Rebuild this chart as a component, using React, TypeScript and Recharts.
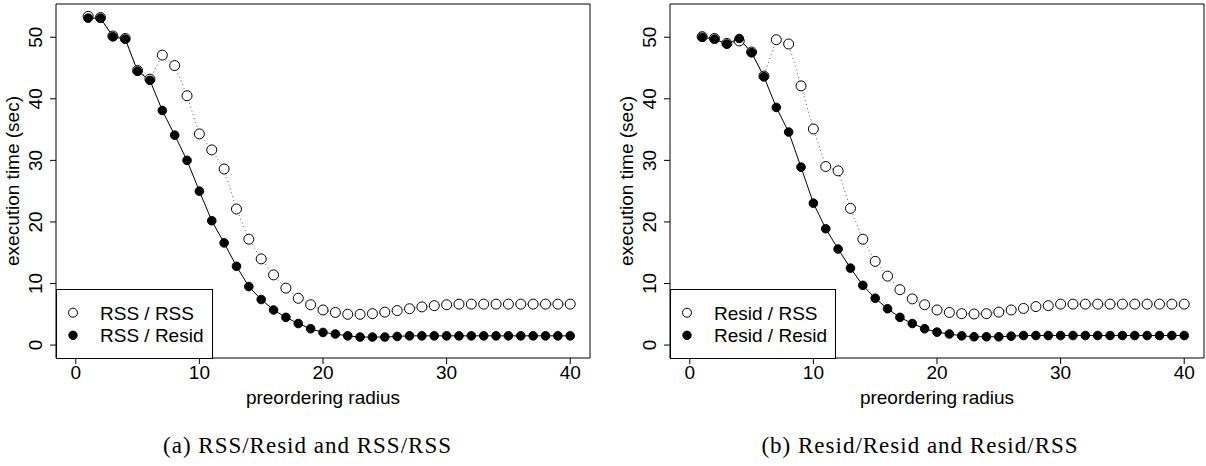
import { LineChart, Line, XAxis, YAxis, ReferenceArea, Legend } from "recharts"

// preordering radius
const radius = [
  1, 2, 3, 4, 5, 6, 7, 8, 9, 10, 11, 12, 13, 14, 15, 16, 17, 18, 19, 20,
  21, 22, 23, 24, 25, 26, 27, 28, 29, 30, 31, 32, 33, 34, 35, 36, 37, 38, 39, 40,
]

// (a) execution time (sec)
const rssResid = [
  53.1, 53.1, 50.1, 49.7, 44.5, 43.0, 38.1, 34.1, 30.0, 25.0,
  20.2, 16.6, 12.8, 9.5, 7.4, 5.7, 4.5, 3.5, 2.65, 2.05,
  1.8, 1.5, 1.3, 1.3, 1.3, 1.4, 1.5, 1.5, 1.5, 1.5,
  1.5, 1.5, 1.5, 1.5, 1.5, 1.5, 1.5, 1.5, 1.5, 1.5,
]
const rssRss = [
  53.4, 53.2, 50.2, 49.8, 44.6, 43.2, 47.1, 45.4, 40.5, 34.3,
  31.7, 28.6, 22.1, 17.2, 14.0, 11.4, 9.25, 7.6, 6.55, 5.7,
  5.3, 5.0, 5.0, 5.1, 5.35, 5.6, 5.9, 6.2, 6.4, 6.55,
  6.65, 6.65, 6.65, 6.65, 6.65, 6.65, 6.65, 6.65, 6.65, 6.65,
]

// (b) execution time (sec)
const residResid = [
  50.0, 49.7, 48.9, 49.8, 47.5, 43.6, 38.6, 34.6, 28.9, 23.05,
  18.9, 15.6, 12.5, 9.7, 7.6, 5.9, 4.5, 3.5, 2.65, 2.1,
  1.8, 1.5, 1.35, 1.35, 1.35, 1.45, 1.55, 1.55, 1.55, 1.55,
  1.55, 1.55, 1.55, 1.55, 1.55, 1.55, 1.55, 1.55, 1.55, 1.55,
]
const residRss = [
  50.1, 49.8, 49.0, 49.4, 47.6, 43.7, 49.6, 48.9, 42.1, 35.1,
  29.0, 28.3, 22.2, 17.2, 13.6, 11.2, 9.0, 7.5, 6.55, 5.7,
  5.3, 5.1, 5.05, 5.1, 5.35, 5.7, 5.95, 6.25, 6.4, 6.65,
  6.65, 6.65, 6.65, 6.65, 6.65, 6.65, 6.65, 6.65, 6.65, 6.65,
]

const xTicks = [0, 10, 20, 30, 40]
const yTicks = [0, 10, 20, 30, 40, 50]

const SANS = '"Liberation Sans", Arial, Helvetica, sans-serif'
const SERIF = '"Liberation Serif", "Times New Roman", serif'
const X_DOMAIN: [number, number] = [-1.6, 41.6]
const Y_DOMAIN: [number, number] = [-2.1, 55.4]

const YTick = (props: any) => {
  const { x, y, payload } = props
  const bx = x - 5.5
  return (
    <text x={bx} y={y} transform={`rotate(-90 ${bx} ${y})`} textAnchor="middle" fontSize={19} fill="#000" fontFamily={SANS}>
      {payload.value}
    </text>
  )
}

const XLabel = (p: any) => {
  const vb = p.viewBox ?? { x: 56, y: 358, width: 534, height: 52 }
  return (
    <text x={vb.x + vb.width / 2} y={vb.y + 45.5} textAnchor="middle" fontSize={19} fill="#000" fontFamily={SANS}>
      preordering radius
    </text>
  )
}

const YLabel = (p: any) => {
  const vb = p.viewBox ?? { x: 0, y: 4, width: 56, height: 354 }
  const cx = vb.x + 18.5
  const cy = vb.y + vb.height / 2
  return (
    <text x={cx} y={cy} transform={`rotate(-90 ${cx} ${cy})`} textAnchor="middle" fontSize={19} fill="#000" fontFamily={SANS}>
      execution time (sec)
    </text>
  )
}

const OpenDot = (p: any) => (
  <circle key={`o-${p.index}`} cx={p.cx} cy={p.cy} r={5} fill="#fff" stroke="#000" strokeWidth={1} />
)
const FilledDot = (p: any) => (
  <circle key={`f-${p.index}`} cx={p.cx} cy={p.cy} r={4.3} fill="#000" stroke="#000" strokeWidth={1} />
)

function LegendBox({ width, openName, filledName }: { width: number; openName: string; filledName: string }) {
  return (
    <svg width={width} height={70} style={{ display: "block" }}>
      <rect x={0.5} y={0.5} width={width - 1} height={69} fill="#fff" stroke="#000" />
      <circle cx={17} cy={23.7} r={4.5} fill="#fff" stroke="#000" />
      <text x={44} y={30.5} fontSize={19} fill="#000" fontFamily={SANS}>{openName}</text>
      <circle cx={17} cy={46.3} r={4.2} fill="#000" stroke="#000" />
      <text x={44} y={53} fontSize={19} fill="#000" fontFamily={SANS}>{filledName}</text>
    </svg>
  )
}

interface PanelProps {
  left: number
  solid: number[]
  dotted: number[]
  solidName: string
  dottedName: string
  legendWidth: number
}

function Panel({ left, solid, dotted, solidName, dottedName, legendWidth }: PanelProps) {
  const rows = radius.map((r, i) => ({ r, solid: solid[i], dotted: dotted[i] }))
  return (
    <div style={{ position: "absolute", left, top: 0, fontFamily: SANS }}>
      <LineChart width={592} height={410} data={rows} margin={{ top: 4, right: 2, bottom: 0, left: 0 }}>
        <ReferenceArea x1={X_DOMAIN[0]} x2={X_DOMAIN[1]} y1={Y_DOMAIN[0]} y2={Y_DOMAIN[1]} fill="none" stroke="#000" strokeWidth={1} />
        <XAxis
          type="number"
          dataKey="r"
          domain={X_DOMAIN}
          ticks={xTicks}
          interval={0}
          allowDataOverflow
          height={52}
          tickSize={6}
          axisLine={false}
          tickLine={{ stroke: "#000" }}
          tick={{ fontSize: 19, fill: "#000" }}
          label={XLabel}
        />
        <YAxis
          type="number"
          domain={Y_DOMAIN}
          ticks={yTicks}
          interval={0}
          allowDataOverflow
          width={56}
          tickSize={6}
          axisLine={false}
          tickLine={{ stroke: "#000" }}
          tick={YTick}
          label={YLabel}
        />
        <Line
          type="linear"
          dataKey="dotted"
          name={dottedName}
          stroke="#555"
          strokeWidth={1}
          strokeDasharray="1 3"
          dot={OpenDot}
          activeDot={false}
          isAnimationActive={false}
        />
        <Line
          type="linear"
          dataKey="solid"
          name={solidName}
          stroke="#000"
          strokeWidth={1}
          dot={FilledDot}
          activeDot={false}
          isAnimationActive={false}
        />
        <Legend
          layout="horizontal"
          verticalAlign="middle"
          align="center"
          wrapperStyle={{ left: 56, top: 289, width: legendWidth, height: 70 }}
          content={() => <LegendBox width={legendWidth} openName={dottedName} filledName={solidName} />}
        />
      </LineChart>
    </div>
  )
}

const captionStyle = {
  position: "absolute" as const,
  top: 434,
  transform: "translateX(-50%)",
  whiteSpace: "nowrap" as const,
  fontFamily: SERIF,
  fontSize: 23,
  letterSpacing: 1,
  lineHeight: "23px",
  color: "#000",
}

export default function App() {
  return (
    <div style={{ position: "absolute", left: 0, top: 0, width: 1206, height: 466, background: "#fff", overflow: "hidden" }}>
      <Panel left={0} solid={rssResid} dotted={rssRss} solidName="RSS / Resid" dottedName="RSS / RSS" legendWidth={157} />
      <Panel left={614} solid={residResid} dotted={residRss} solidName="Resid / Resid" dottedName="Resid / RSS" legendWidth={166} />
      <div style={{ ...captionStyle, left: 307.5 }}>(a) RSS/Resid and RSS/RSS</div>
      <div style={{ ...captionStyle, left: 920 }}>(b) Resid/Resid and Resid/RSS</div>
    </div>
  )
}
